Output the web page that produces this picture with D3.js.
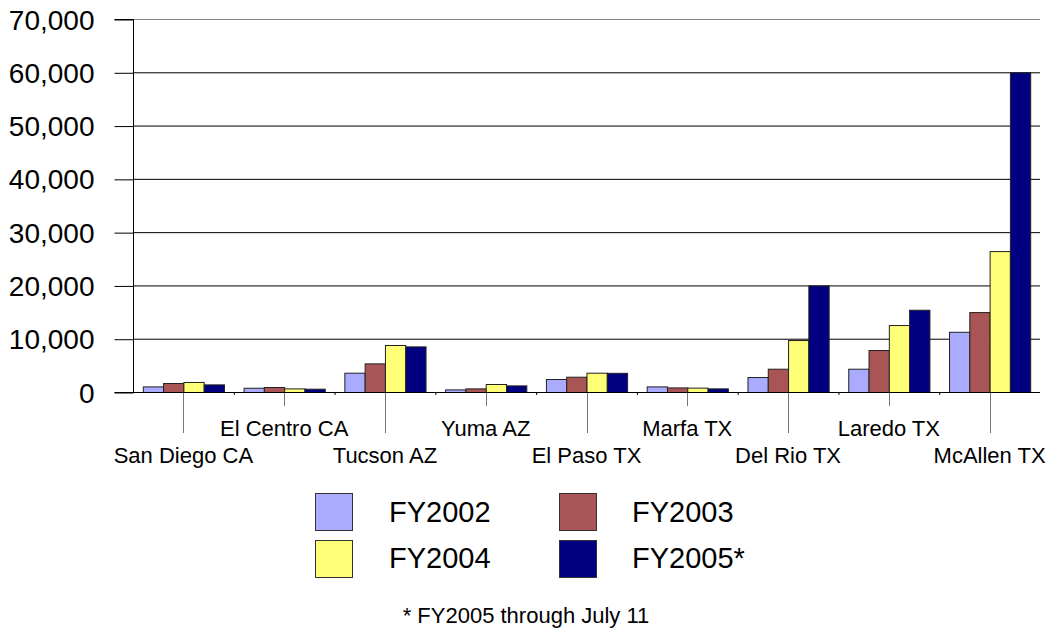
<!DOCTYPE html>
<html><head><meta charset="utf-8">
<script src="https://cdn.jsdelivr.net/npm/d3@7"></script>
<style>body{margin:0;background:#fff;} text{font-family:"Liberation Sans",Arial,sans-serif;fill:#000;}</style>
</head><body>
<svg id="c" width="1047" height="633"></svg>
<script>
const categories = ["San Diego CA","El Centro CA","Tucson AZ","Yuma AZ","El Paso TX","Marfa TX","Del Rio TX","Laredo TX","McAllen TX"];
const seriesNames = ["FY2002","FY2003","FY2004","FY2005*"];
const fy2002 = [1050, 800, 3620, 490, 2440, 1050, 2810, 4370, 11300];
const fy2003 = [1690, 940, 5370, 680, 2870, 860, 4370, 7880, 15000];
const fy2004 = [1880, 680, 8820, 1500, 3620, 820, 9750, 12570, 26450];
const fy2005 = [1430, 620, 8560, 1240, 3600, 680, 20000, 15440, 60000];
const yTicks = [0,10000,20000,30000,40000,50000,60000,70000];
const colors = ["#AAAAFF","#AA5555","#FFFF77","#000080"];
const footnote = "* FY2005 through July 11";

const series = [fy2002, fy2003, fy2004, fy2005];
const svg = d3.select("#c");
const L = 133, R = 1040, T = 19, B = 392;

const y = d3.scaleLinear().domain([0,70000]).range([B,T]);
const x0 = d3.scaleBand().domain(categories).range([L,R]).padding(0);
const gap = 9.8;
const x1 = d3.scaleBand().domain(d3.range(4)).range([gap, x0.bandwidth()-gap]).padding(0);

// gridlines
svg.append("g").selectAll("line").data(yTicks.filter(d=>d>0)).join("line")
  .attr("x1",L).attr("x2",R).attr("y1",d=>y(d)+0.5).attr("y2",d=>y(d)+0.5)
  .attr("stroke",(d)=>d===70000?"#888":"#000").attr("stroke-width",1);

// y axis
const ya = svg.append("g").attr("transform",`translate(${L+0.5},0)`)
  .call(d3.axisLeft(y).tickValues(yTicks).tickSize(19).tickPadding(20).tickFormat(d3.format(",")));
ya.select(".domain").attr("stroke","#000").attr("d",`M-19,${y(70000)+0.5}H0V${y(0)+0.5}H-19`);
ya.selectAll(".tick line").attr("stroke","#000").attr("transform","translate(0,0.5)");
ya.selectAll(".tick text").attr("font-size","28px").attr("font-family","Liberation Sans, Arial, sans-serif").attr("fill","#000").attr("dy","0.36em");

// bars
const groups = svg.append("g").selectAll("g").data(categories).join("g")
  .attr("transform",d=>`translate(${x0(d)},0)`);
groups.selectAll("rect").data((c,i)=>series.map((s,k)=>({k,v:s[i]}))).join("rect")
  .attr("x",d=>x1(d.k)+0.5).attr("width",x1.bandwidth())
  .attr("y",d=>y(d.v)+0.5).attr("height",d=>y(0)-y(d.v))
  .attr("fill",d=>colors[d.k]).attr("stroke","#222").attr("stroke-width",1);

// x axis baseline
svg.append("line").attr("x1",L).attr("x2",R).attr("y1",B+0.5).attr("y2",B+0.5).attr("stroke","#000");
// boundary small ticks
svg.append("g").selectAll("line").data(categories.slice(1)).join("line")
  .attr("x1",d=>x0(d)+0.5).attr("x2",d=>x0(d)+0.5).attr("y1",B).attr("y2",B+3).attr("stroke","#000");

// leader lines + labels
const cx = d=>x0(d)+x0.bandwidth()/2;
svg.append("g").selectAll("line").data(categories).join("line")
  .attr("x1",d=>Math.round(cx(d))+0.5).attr("x2",d=>Math.round(cx(d))+0.5)
  .attr("y1",B+1).attr("y2",(d,i)=>i%2===0?433:406)
  .attr("stroke","#777").attr("stroke-width",1);
svg.append("g").selectAll("text").data(categories).join("text")
  .attr("x",cx).attr("y",(d,i)=>i%2===0?462.5:435.5)
  .attr("text-anchor","middle").attr("font-size","22px").text(d=>d);

// legend
const legPos = [[315,493,389,522],[559,493,632,522],[315,540,389,568],[559,540,632,568]];
const lg = svg.append("g").selectAll("g").data(seriesNames).join("g");
lg.append("rect").attr("x",(d,i)=>legPos[i][0]+0.5).attr("y",(d,i)=>legPos[i][1]+0.5)
  .attr("width",37).attr("height",37).attr("fill",(d,i)=>colors[i]).attr("stroke","#333");
lg.append("text").attr("x",(d,i)=>legPos[i][2]).attr("y",(d,i)=>legPos[i][3])
  .attr("font-size","29px").text(d=>d);

svg.append("text").attr("x",526).attr("y",623).attr("text-anchor","middle")
  .attr("font-size","22px").text(footnote);
</script>
</body></html>
